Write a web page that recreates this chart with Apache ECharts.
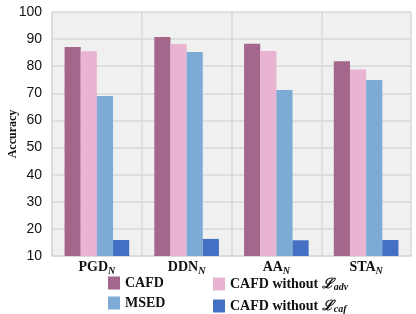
<!DOCTYPE html>
<html><head><meta charset="utf-8">
<script src="https://cdn.jsdelivr.net/npm/echarts@6/dist/echarts.min.js"></script>
<style>html,body{margin:0;padding:0;background:#fff}#c{width:416px;height:314px}</style>
</head><body><div id="c"></div>
<script>
const categories = ['PGD', 'DDN', 'AA', 'STA'];
const seriesNames = ['CAFD', 'CAFD without adv', 'MSED', 'CAFD without caf'];
const cafd = [87.1, 90.8, 88.3, 81.8];
const cafdNoAdv = [85.5, 88.2, 85.6, 78.8];
const msed = [69.0, 85.2, 71.2, 74.9];
const cafdNoCaf = [15.9, 16.3, 15.8, 15.9];
const yTicks = [10, 20, 30, 40, 50, 60, 70, 80, 90, 100];

const colors = ['#a5668b', '#e8b4d2', '#7eaad6', '#4470c4'];
const serif = '"Liberation Serif", "DejaVu Serif", serif';
const sans = '"Liberation Sans", Arial, sans-serif';

const legendRich = {
  b: {fontFamily: serif, fontWeight: 'bold', fontSize: 14, color: '#111', lineHeight: 14},
  L: {fontFamily: serif, fontStyle: 'italic', fontWeight: 'bold', fontSize: 14, color: '#111', lineHeight: 14},
  s: {fontFamily: serif, fontStyle: 'italic', fontWeight: 'bold', fontSize: 10, color: '#111', lineHeight: 14, padding: [6, 0, 0, 0]}
};
function legendFmt(name) {
  if (name === 'CAFD without adv') return '{b|CAFD without }{L|ℒ}{s|adv}';
  if (name === 'CAFD without caf') return '{b|CAFD without }{L|ℒ}{s|caf}';
  return '{b|' + name + '}';
}

const data = [cafd, cafdNoAdv, msed, cafdNoCaf];
const chart = echarts.init(document.getElementById('c'), null, {renderer: 'canvas'});
chart.setOption({
  animation: false,
  backgroundColor: '#fff',
  grid: {left: 52, right: 5, top: 12, bottom: 58, show: true, backgroundColor: '#f0f0f0', borderWidth: 0,
         containLabel: false, outerBoundsMode: 'none'},
  legend: [
    {data: [seriesNames[0], seriesNames[2]], orient: 'vertical', left: 108, top: 276, height: 40, itemWidth: 12, itemHeight: 13, itemGap: 6,
     padding: 0, icon: 'rect', formatter: legendFmt, textStyle: {rich: legendRich}},
    {data: [seriesNames[1], seriesNames[3]], orient: 'vertical', left: 213, top: 276, height: 40, itemWidth: 12, itemHeight: 13, itemGap: 6,
     padding: 0, icon: 'rect', formatter: legendFmt, textStyle: {rich: legendRich}}
  ],
  xAxis: {
    type: 'category', data: categories,
    axisLine: {show: true, lineStyle: {color: '#d9d9d9', width: 1.5}},
    axisTick: {show: false},
    splitLine: {show: true, interval: 0, lineStyle: {color: '#d9d9d9', width: 1.5}},
    axisLabel: {
      interval: 0,
      margin: 3,
      formatter: v => '{b|' + v + '}{s|N}',
      rich: {
        b: {fontFamily: serif, fontWeight: 'bold', fontSize: 14, color: '#111'},
        s: {fontFamily: serif, fontStyle: 'italic', fontWeight: 'bold', fontSize: 10, color: '#111', padding: [7, 0, 0, 0]}
      }
    }
  },
  yAxis: {
    type: 'value', min: yTicks[0], max: yTicks[yTicks.length - 1], interval: 10,
    name: 'Accuracy', nameLocation: 'middle', nameGap: 33, nameRotate: 90, nameMoveOverlap: false,
    nameTextStyle: {fontFamily: serif, fontWeight: 'bold', fontSize: 12, color: '#111'},
    axisLine: {show: true, lineStyle: {color: '#d9d9d9', width: 1.5}},
    axisTick: {show: false},
    splitLine: {show: true, lineStyle: {color: '#d9d9d9', width: 1.5}},
    axisLabel: {fontFamily: sans, fontSize: 14, color: '#111', margin: 10}
  },
  series: seriesNames.map((n, i) => ({
    name: n, type: 'bar', data: data[i], barGap: '0%', barCategoryGap: '28%',
    itemStyle: {color: colors[i]}
  }))
});
</script></body></html>
